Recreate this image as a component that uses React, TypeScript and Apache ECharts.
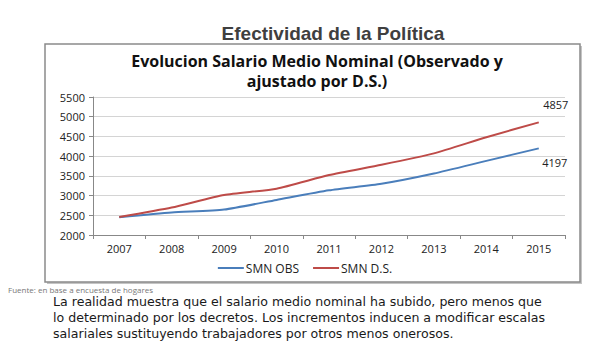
import React, { useEffect, useRef } from "react";
import * as echarts from "echarts";

const years = ["2007", "2008", "2009", "2010", "2011", "2012", "2013", "2014", "2015"];
const smnObs = [2450, 2570, 2645, 2890, 3135, 3300, 3560, 3880, 4197];
const smnDs = [2455, 2695, 3015, 3175, 3520, 3780, 4070, 4480, 4857];
const yTicks = { min: 2000, max: 5500, interval: 500 };
const paragraph = [
  "La realidad muestra que el salario medio nominal ha subido, pero menos que",
  "lo determinado por los decretos. Los incrementos inducen a modificar escalas",
  "salariales sustituyendo trabajadores por otros menos onerosos.",
];

const FONT = "'Open Sans', 'Noto Sans', sans-serif";

export default function App() {
  const ref = useRef<HTMLDivElement>(null);
  useEffect(() => {
    document.body.style.margin = "0";
    const chart = echarts.init(ref.current!, null, { renderer: "svg" });
    const lastIdx = years.length - 1;
    const endLabel = (offset: number[], position: string) => ({
      show: true,
      position,
      offset,
      fontFamily: FONT,
      fontSize: 11,
      color: "#222",
    });
    chart.setOption({
      animation: false,
      backgroundColor: "#ffffff",
      title: {
        text: "Evolucion Salario Medio Nominal (Observado y\najustado por D.S.)",
        left: 312,
        textAlign: "center",
        top: 46,
        textStyle: {
          fontFamily: FONT,
          fontWeight: "bold",
          fontSize: 16,
          lineHeight: 20,
          color: "#111",
        },
      },
      graphic: [
        {
          type: "rect",
          shape: { x: 47, y: 46, width: 535, height: 238 },
          style: { fill: "#c4c4c4", stroke: null },
          z: -2,
        },
        {
          type: "rect",
          shape: { x: 45, y: 44, width: 535, height: 238 },
          style: { fill: "#ffffff", stroke: "#8a8a8a", lineWidth: 1.5 },
          z: -1,
        },
        {
          type: "text",
          x: 333,
          y: 33,
          style: {
            text: "Efectividad de la Política",
            fontFamily: "'Liberation Sans', Arial, sans-serif",
            fontWeight: "bold",
            fontSize: 19,
            fill: "#3f3f3f",
            align: "center",
            verticalAlign: "middle",
          },
        },
        {
          type: "text",
          x: 8,
          y: 289,
          style: {
            text: "Fuente: en base a encuesta de hogares",
            fontFamily: FONT,
            fontSize: 8,
            fill: "#777",
            verticalAlign: "middle",
          },
        },
        ...paragraph.map((line, i) => ({
          type: "text",
          x: 53,
          y: 301 + i * 16,
          style: {
            text: line,
            fontFamily: "'DejaVu Sans', sans-serif",
            fontSize: 12.6,
            fill: "#1a1a1a",
            verticalAlign: "middle",
          },
        })),
      ],
      legend: {
        top: 257,
        left: "center",
        itemWidth: 26,
        itemHeight: 2,
        itemGap: 14,
        icon: "rect",
        textStyle: { fontFamily: FONT, fontSize: 12, color: "#222", padding: [0, 0, 0, -3] },
        data: ["SMN OBS", "SMN D.S."],
      },
      grid: { left: 93, right: 45, top: 97, bottom: 121 },
      xAxis: {
        type: "category",
        data: years,
        boundaryGap: true,
        axisLine: { lineStyle: { color: "#888" } },
        axisTick: { show: true, length: 4, inside: false, lineStyle: { color: "#888" } },
        axisLabel: { fontFamily: FONT, fontSize: 11, color: "#222", margin: 8 },
      },
      yAxis: {
        type: "value",
        min: yTicks.min,
        max: yTicks.max,
        interval: yTicks.interval,
        axisLine: { show: true, lineStyle: { color: "#888" } },
        axisTick: { show: true, length: 4, lineStyle: { color: "#888" } },
        axisLabel: {
          fontFamily: FONT,
          fontSize: 11,
          color: "#222",
          margin: 8,
          formatter: (v: number) => String(v),
        },
        splitLine: { lineStyle: { color: "#d4d4d4", width: 1 } },
      },
      series: [
        {
          name: "SMN OBS",
          type: "line",
          data: smnObs.map((v, i) =>
            i === lastIdx ? { value: v, label: endLabel([16, 4], "bottom") } : v
          ),
          smooth: 0.2,
          showSymbol: true,
          symbol: "circle",
          symbolSize: 0.1,
          lineStyle: { color: "#4a7ebb", width: 2 },
          itemStyle: { color: "#4a7ebb" },
        },
        {
          name: "SMN D.S.",
          type: "line",
          data: smnDs.map((v, i) =>
            i === lastIdx ? { value: v, label: endLabel([17, -7], "top") } : v
          ),
          smooth: 0.2,
          showSymbol: true,
          symbol: "circle",
          symbolSize: 0.1,
          lineStyle: { color: "#be4b48", width: 2 },
          itemStyle: { color: "#be4b48" },
        },
      ],
    });
    return () => chart.dispose();
  }, []);
  return (
    <div
      ref={ref}
      style={{ position: "fixed", left: 0, top: 0, width: 610, height: 356 }}
    />
  );
}
